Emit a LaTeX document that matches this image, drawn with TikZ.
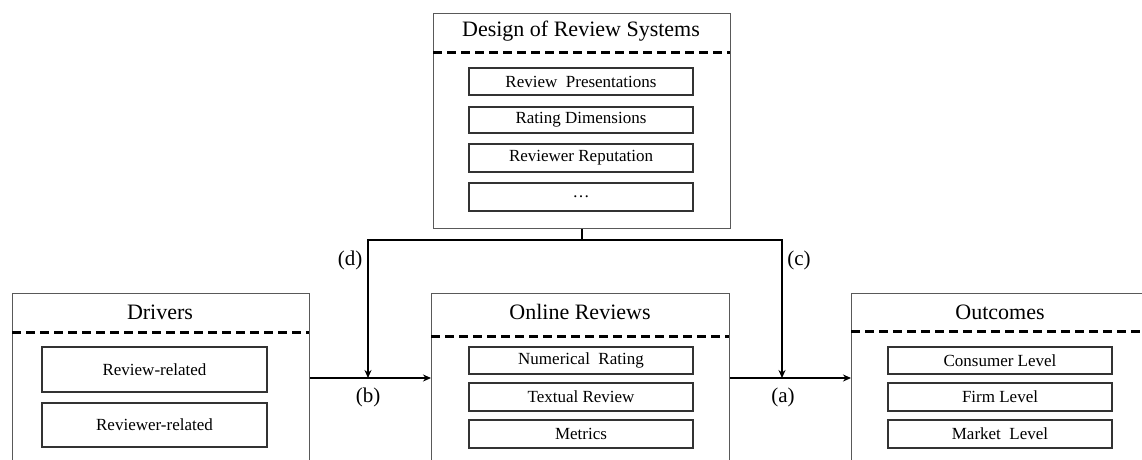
\documentclass[tikz,border=0pt]{standalone}
\usepackage{fontspec}
\setmainfont{Liberation Serif}
\usetikzlibrary{arrows.meta}
\begin{document}
\begin{tikzpicture}[x=1pt,y=-1pt,
  frame/.style={draw=black!65,line width=1.3pt,fill=white},
  item/.style={draw=black!80,line width=1.3pt,minimum width=224pt,inner sep=0pt,font=\fontsize{17}{20}\selectfont},
  title/.style={font=\fontsize{22}{26}\selectfont,inner sep=0pt},
  sep/.style={dashed,line width=3pt,dash pattern=on 9pt off 5pt},
  link/.style={line width=1.8pt},
  arr/.style={link,-{Stealth[length=8pt,width=7pt]}},
  lab/.style={font=\fontsize{21}{24}\selectfont,inner sep=0pt}]
\useasboundingbox (0,0) rectangle (1142,459);
\clip (0,0) rectangle (1142,459);
\fill[white] (0,0) rectangle (1142,459);

% frames
\node[frame,minimum width=297pt,minimum height=215pt,anchor=north west,inner sep=0pt] (design) at (433,13) {};
\node[frame,minimum width=297pt,minimum height=200pt,anchor=north west,inner sep=0pt] (drivers) at (12,293) {};
\node[frame,minimum width=298pt,minimum height=200pt,anchor=north west,inner sep=0pt] (online) at (431,293) {};
\node[frame,minimum width=320pt,minimum height=200pt,anchor=north west,inner sep=0pt] (outcomes) at (851,293) {};

% titles and separators
\node[title] (tdesign) at (581,31) {Design of Review Systems};
\draw[sep] (433,52) -- (730,52);
\node[title] (tdrivers) at (160,312) {Drivers};
\draw[sep] (12,332) -- (309,332);
\node[title] (tonline) at (580,312) {Online Reviews};
\draw[sep] (431,336) -- (729,336);
\node[title] (toutcomes) at (1000,312) {Outcomes};
\draw[sep] (851,331) -- (1142,331);

% items: design of review systems
\node[item,minimum height=27pt] (d1) at (581,81.5) {Review\ \ Presentations};
\node[item,minimum height=26pt] (d2) at (581,120) {Rating Dimensions};
\node[item,minimum height=28pt] (d3) at (581,158) {Reviewer Reputation};
\node[item,minimum height=28pt] (d4) at (581,197) {\dots};

% items: drivers
\node[item,minimum width=225pt,minimum height=45pt] (r1) at (154.5,369.5) {Review-related};
\node[item,minimum width=225pt,minimum height=44pt] (r2) at (154.5,425) {Reviewer-related};

% items: online reviews
\node[item,minimum height=27pt] (o1) at (581,360.5) {Numerical\ \ Rating};
\node[item,minimum height=28pt] (o2) at (581,397) {Textual Review};
\node[item,minimum height=28pt] (o3) at (581,434) {Metrics};

% items: outcomes
\node[item,minimum height=27pt] (c1) at (1000,360.5) {Consumer Level};
\node[item,minimum height=28pt] (c2) at (1000,397) {Firm Level};
\node[item,minimum height=28pt] (c3) at (1000,434) {Market\ \ Level};

% connectors
\coordinate (split) at ([yshift=-11pt]design.south);
\coordinate (bpt) at (368,378);
\coordinate (apt) at (782,378);
\draw[link] (design.south) -- (split);
\draw[arr] (split) -| (bpt);
\draw[arr] (split) -| (apt);
\draw[arr] (drivers.east |- bpt) -- (online.west |- bpt);
\draw[arr] (online.east |- apt) -- (outcomes.west |- apt);

% path labels
\node[lab] (ld) at (350,260) {(d)};
\node[lab] (lc) at (799,260) {(c)};
\node[lab] (lb) at (368,397) {(b)};
\node[lab] (la) at (783,397) {(a)};
\end{tikzpicture}
\end{document}
